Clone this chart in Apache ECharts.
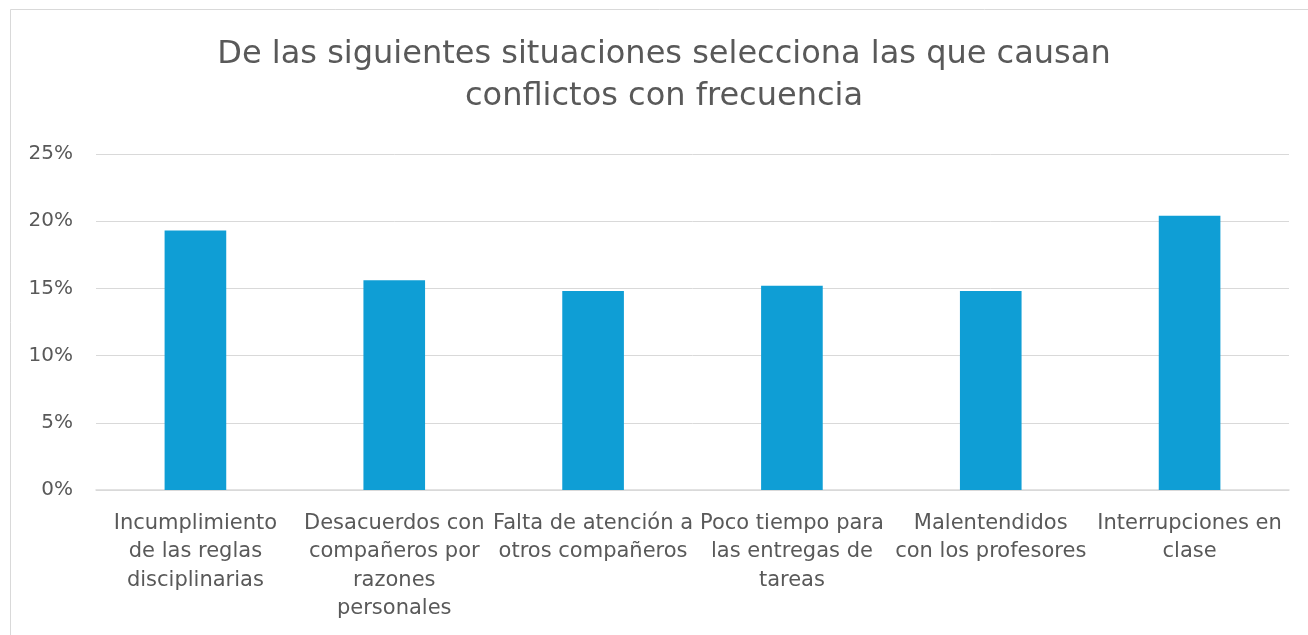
<!DOCTYPE html>
<html>
<head>
<meta charset="utf-8">
<script src="https://cdn.jsdelivr.net/npm/echarts@6/dist/echarts.min.js"></script>
<style>
  html, body { margin: 0; padding: 0; background: #fff; }
  #e_chart_1 { width: 1308px; height: 635px; }
</style>
</head>
<body>
<div id="e_chart_1"></div>
<script>
var titleText = 'De las siguientes situaciones selecciona las que causan\nconflictos con frecuencia';
var categories = [
	'Incumplimiento\nde las reglas\ndisciplinarias',
	'Desacuerdos con\ncompañeros por\nrazones\npersonales',
	'Falta de atención a\notros compañeros',
	'Poco tiempo para\nlas entregas de\ntareas',
	'Malentendidos\ncon los profesores',
	'Interrupciones en\nclase'
];
var values = [19.3, 15.6, 14.8, 15.2, 14.8, 20.4];
var yTicks = [0, 5, 10, 15, 20, 25];

var dom = document.getElementById("e_chart_1");
var myChart = echarts.init(dom);
var textColor = '#595959';
var font = "'DejaVu Sans', sans-serif";

var option = {
	animation: false,
	backgroundColor: '#fff',
	title: {
		text: titleText,
		left: 664,
		top: 34,
		padding: 0,
		textAlign: 'center',
		textStyle: {
			color: textColor,
			fontFamily: font,
			fontWeight: 'normal',
			fontSize: 32,
			lineHeight: 42
		}
	},
	graphic: [{
		type: 'rect',
		silent: true,
		shape: { x: 10.5, y: 9.5, width: 1400, height: 700 },
		style: { fill: 'none', stroke: '#d9d9d9', lineWidth: 1 }
	}],
	grid: {
		left: 96,
		right: 19,
		top: 154,
		bottom: 145
	},
	xAxis: {
		type: 'category',
		data: categories,
		axisTick: { show: false },
		axisLine: {
			show: true,
			lineStyle: { color: '#d9d9d9', width: 1.5 }
		},
		axisLabel: {
			interval: 0,
			margin: 19,
			color: textColor,
			fontFamily: font,
			fontSize: 21,
			lineHeight: 28.5,
			align: 'center'
		}
	},
	yAxis: {
		type: 'value',
		min: yTicks[0],
		max: yTicks[yTicks.length - 1],
		interval: 5,
		axisLine: { show: false },
		axisTick: { show: false },
		axisLabel: {
			margin: 23,
			color: textColor,
			fontFamily: font,
			fontSize: 20,
			formatter: '{value}%'
		},
		splitLine: {
			show: true,
			lineStyle: { color: '#d9d9d9', width: 1 }
		}
	},
	series: [{
		type: 'bar',
		data: values,
		barWidth: '31%',
		itemStyle: { color: '#0F9ED5' }
	}]
};

myChart.setOption(option, true);
</script>
</body>
</html>
